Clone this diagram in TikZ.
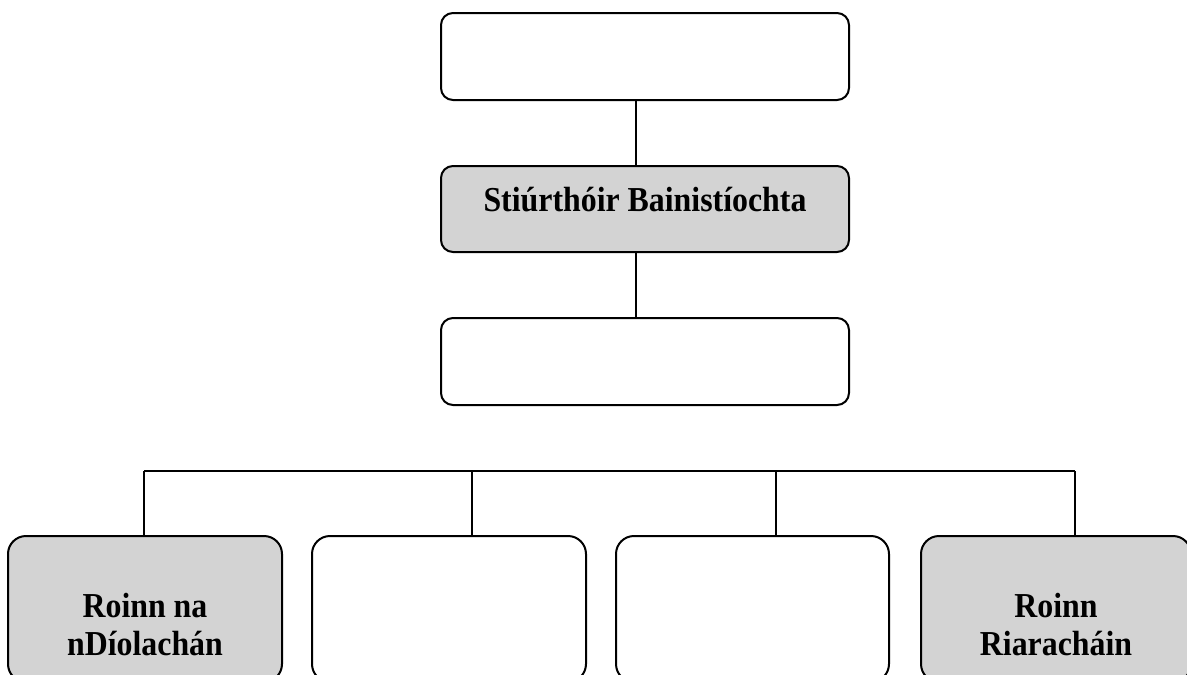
\documentclass[tikz,border=0pt]{standalone}
\usepackage{fontspec}
\setmainfont{Liberation Serif}
\newfontfamily\lblfont[FakeStretch=0.91]{Liberation Serif}
\definecolor{boxgray}{RGB}{211,211,211}
\begin{document}
\begin{tikzpicture}[x=1pt,y=-1pt,
  box/.style={draw=black, line width=2pt, rounded corners=#1, inner sep=0pt},
  box/.default=12pt,
  conn/.style={draw=black, line width=1.6pt},
  lbl/.style={font=\lblfont\fontsize{35}{38}\selectfont\bfseries, align=center, inner sep=0pt, anchor=base}]
\useasboundingbox (0,0) rectangle (1187,675);
\clip (0,0) rectangle (1187,675);
% top column
\node[box, minimum width=408pt, minimum height=87pt] (top) at (645,56.5) {};
\node[box, fill=boxgray, minimum width=408pt, minimum height=86pt] (mid) at (645,209) {};
\node[box, minimum width=408pt, minimum height=87pt] (third) at (645,361.5) {};
\node[lbl] (midtext) at (645,211) {Stiúrthóir Bainistíochta};
% bottom row
\node[box=18pt, fill=boxgray, minimum width=274pt, minimum height=146pt] (b1) at (145,609) {};
\node[box=18pt, minimum width=274pt, minimum height=146pt] (b2) at (449,609) {};
\node[box=18pt, minimum width=273pt, minimum height=146pt] (b3) at (752.5,609) {};
\node[box=18pt, fill=boxgray, minimum width=270pt, minimum height=146pt] (b4) at (1056,609) {};
\node[lbl] (b1text) at (145,655) {Roinn na\\nDíolachán};
\node[lbl] (b4text) at (1056,655) {Roinn\\Riaracháin};
% connectors
\coordinate (cx) at (636,0);
\draw[conn] (top.south -| cx) -- (mid.north -| cx);
\draw[conn] (mid.south -| cx) -- (third.north -| cx);
\coordinate (j1) at (144,471);
\coordinate (j2) at (472,471);
\coordinate (j3) at (776,471);
\coordinate (j4) at (1075,471);
\draw[conn] (j1) -- (j4);
\draw[conn] (j1) -- (b1.north -| j1);
\draw[conn] (j2) -- (b2.north -| j2);
\draw[conn] (j3) -- (b3.north -| j3);
\draw[conn] (j4) -- (b4.north -| j4);
\end{tikzpicture}
\end{document}
